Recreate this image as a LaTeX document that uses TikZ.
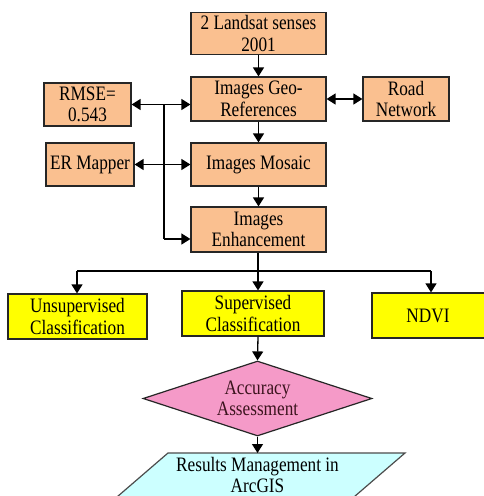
\documentclass[tikz,border=0pt]{standalone}
\usepackage{fontspec}
\setmainfont{Liberation Serif}[FakeStretch=0.84]
\usetikzlibrary{arrows.meta,shapes.geometric,calc}
\definecolor{boxorange}{RGB}{250,192,144}
\definecolor{boxyellow}{RGB}{255,255,0}
\definecolor{boxpink}{RGB}{245,154,200}
\definecolor{boxcyan}{RGB}{204,255,255}
\definecolor{diamtext}{RGB}{60,20,30}
\tikzset{
  obox/.style={draw=black!85, line width=1.2pt, fill=boxorange, align=center, inner sep=0pt},
  ybox/.style={draw=black!85, line width=1.2pt, fill=boxyellow, align=center, inner sep=0pt},
  conn/.style={line width=1.3pt, black},
  arr/.style={conn, -{Triangle[length=9pt,width=11pt]}},
  darr/.style={conn, {Triangle[length=9pt,width=11pt]}-{Triangle[length=9pt,width=11pt]}},
  lbl/.style={align=center, inner sep=0pt}
}
\begin{document}
\begin{tikzpicture}[x=1pt,y=-1pt,font=\fontsize{20.5pt}{21.5pt}\selectfont]
\useasboundingbox (0,0) rectangle (484,496);
\fill[white] (0,0) rectangle (484,496);
\clip (0,0) rectangle (484,496);

% orange boxes
\node[obox, minimum width=135pt, minimum height=42pt] (land) at (258.5,33.5) {2 Landsat senses\\2001};
\node[obox, minimum width=135pt, minimum height=44pt] (geo) at (258.5,99) {Images Geo-\\References};
\node[obox, minimum width=86pt, minimum height=44pt] (road) at (406,99) {Road\\Network};
\node[obox, minimum width=87pt, minimum height=43pt] (rmse) at (87.5,104.5) {RMSE=\\0.543};
\node[obox, minimum width=88pt, minimum height=43pt] (er) at (90,164.5) {ER Mapper};
\node[obox, minimum width=135pt, minimum height=43pt] (mosaic) at (258.5,164.5) {Images Mosaic};
\node[obox, minimum width=135pt, minimum height=45pt] (enh) at (258.5,229.5) {Images\\Enhancement};

% yellow boxes
\node[ybox, minimum width=139pt, minimum height=45pt] (unsup) at (77.5,316.5) {Unsupervised\\Classification};
\node[ybox, minimum width=142pt, minimum height=45pt] (sup) at (253,313.5) {Supervised\\Classification};
\node[ybox, minimum width=118pt, minimum height=45pt] (ndvi) at (431,315.5) {};
\node[lbl] (ndvitext) at (428,315.5) {NDVI};

% diamond
\node[draw=black!85, line width=1.2pt, fill=boxpink, diamond, minimum width=229pt, minimum height=75pt, aspect=3, inner sep=0pt, text=diamtext, align=center] (acc) at (257.5,398.5) {Accuracy\\Assessment};

% parallelogram
\coordinate (pTL) at (168,453);
\coordinate (pTR) at (405,453);
\fill[boxcyan] (pTL) -- (pTR) -- ++(-58,50) -- ($(pTL)+(-58,50)$) -- cycle;
\draw[line width=1.2pt, black!70] ($(pTL)+(-58,50)$) -- (pTL) -- (pTR) -- ++(-58,50);
\node[lbl] (res) at (257.5,475) {Results Management in\\ArcGIS};

% connectors
\draw[arr] (land) -- (geo);
\draw[arr] (geo) -- (mosaic);
\draw[arr] (mosaic) -- (enh);
\draw[darr] (geo.east |- road.west) -- (road.west);
\draw[darr] (rmse.east) -- (rmse.east -| geo.west);
\draw[darr] (er.east) -- (mosaic.west);
\coordinate (trunkTop) at (164,104.5);
\coordinate (trunkBot) at (164,239);
\draw[conn] (trunkTop) -- (trunkBot);
\draw[arr] (trunkBot) -- (trunkBot -| enh.west);

\coordinate (split) at (258,271);
\coordinate (splitL) at (77,271);
\coordinate (splitR) at (431,271);
\draw[conn] (enh.south -| split) -- (split);
\draw[conn] (splitL) -- (splitR);
\draw[arr] (splitL) -- (splitL |- unsup.north);
\draw[arr] (split) -- (split |- sup.north);
\draw[arr] (splitR) -- (splitR |- ndvi.north);
\draw[arr] (sup.south -| split) -- (acc.north);
\coordinate (accB) at (257.5,453);
\draw[arr] (acc.south) -- (accB);
\end{tikzpicture}
\end{document}
